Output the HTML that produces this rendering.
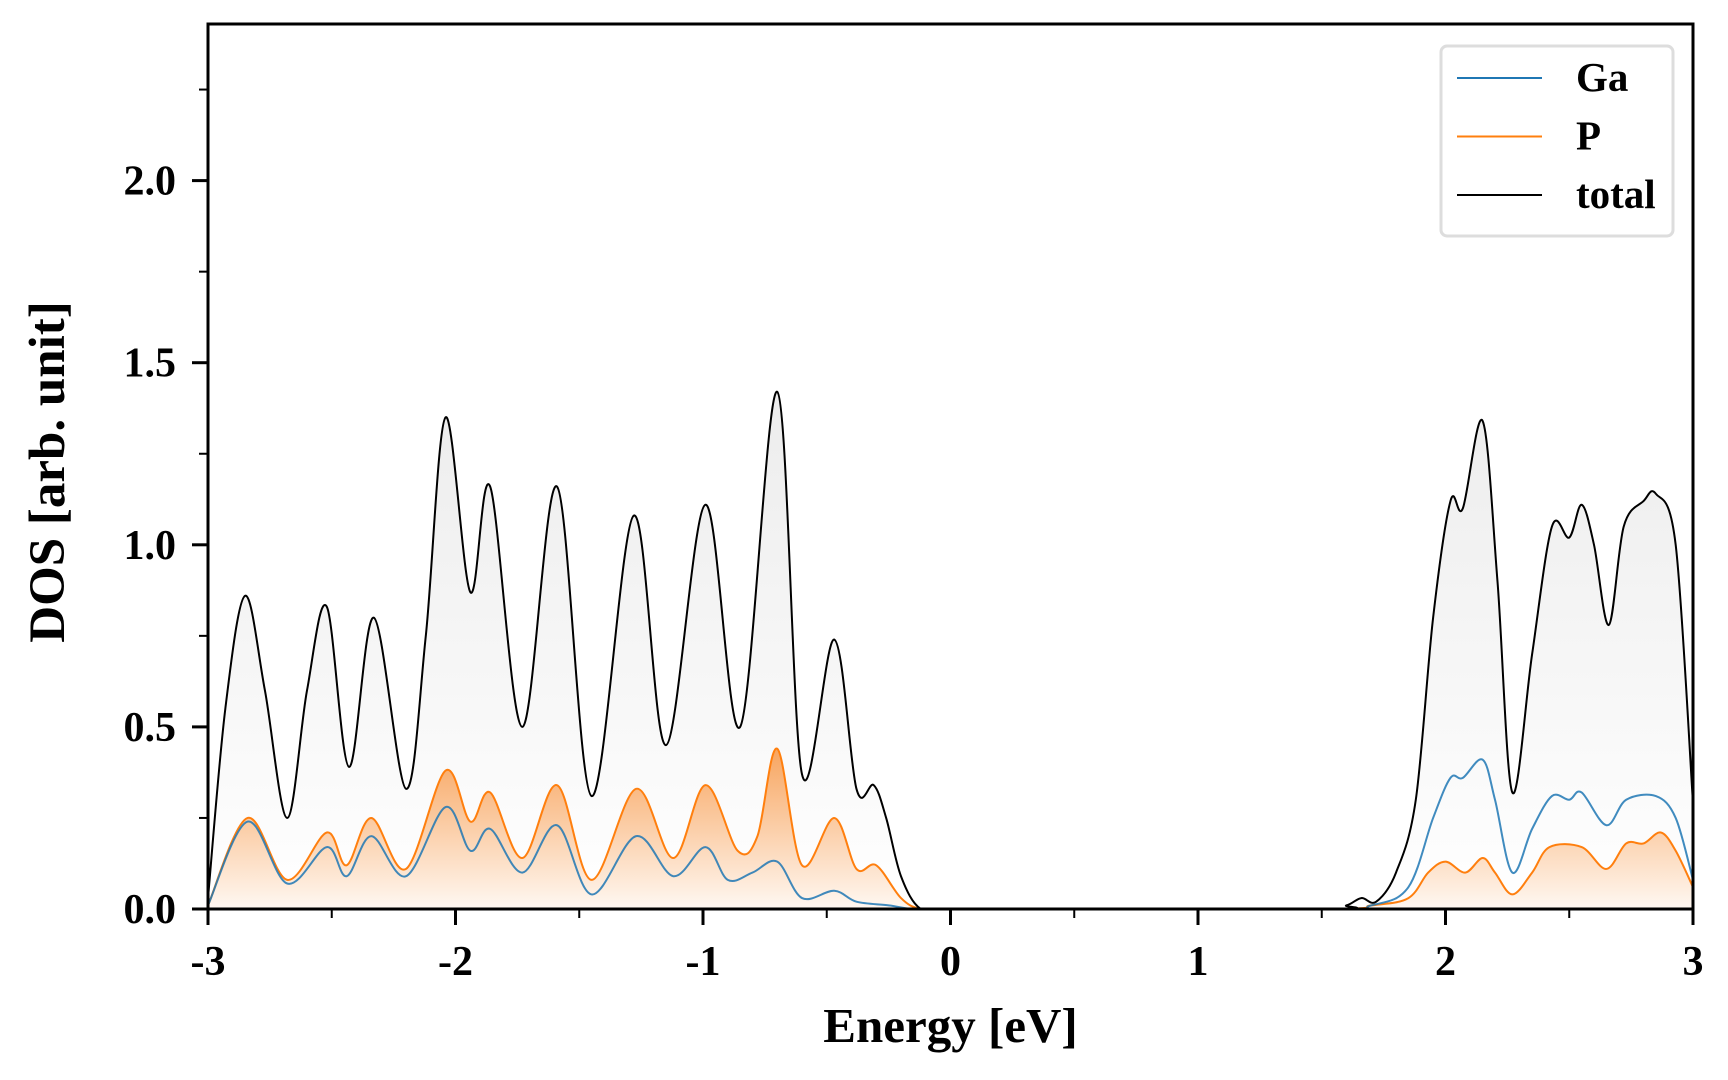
<!DOCTYPE html>
<html><head><meta charset="utf-8">
<style>
html,body{margin:0;padding:0;background:#fff;}
svg{display:block;}
text{font-family:"Liberation Serif",serif;font-weight:bold;fill:#000;}
</style></head>
<body>
<svg id="chart" width="1728" height="1080" viewBox="0 0 1728 1080" xmlns="http://www.w3.org/2000/svg">
<defs>
<linearGradient id="gTot" gradientUnits="userSpaceOnUse" x1="0" y1="380" x2="0" y2="909">
<stop offset="0" stop-color="#ececec"/><stop offset="1" stop-color="#ffffff"/>
</linearGradient>
<linearGradient id="gP" gradientUnits="userSpaceOnUse" x1="0" y1="745" x2="0" y2="909">
<stop offset="0" stop-color="#f7a35c"/><stop offset="1" stop-color="#fff8f2"/>
</linearGradient>
<clipPath id="clipA"><rect x="208" y="24" width="1485" height="885"/></clipPath>
</defs>
<g id="plot" clip-path="url(#clipA)"></g>
<g id="axes"></g>
</svg>
<script>
const totE=[-3,-2.93,-2.85,-2.77,-2.68,-2.6,-2.52,-2.43,-2.33,-2.2,-2.12,-2.04,-1.94,-1.86,-1.73,-1.59,-1.45,-1.28,-1.15,-0.99,-0.85,-0.7,-0.6,-0.47,-0.38,-0.31,-0.26,-0.2,-0.12,0,1.5,1.6,1.66,1.72,1.8,1.88,1.95,2.02,2.07,2.15,2.21,2.27,2.35,2.43,2.5,2.55,2.6,2.66,2.72,2.8,2.85,2.93,3.0];
const totV=[0.03,0.55,0.86,0.6,0.25,0.6,0.83,0.39,0.80,0.33,0.75,1.35,0.87,1.16,0.50,1.16,0.31,1.08,0.45,1.11,0.50,1.42,0.37,0.74,0.33,0.34,0.25,0.09,0.0,0,0,0.01,0.03,0.02,0.1,0.3,0.8,1.12,1.1,1.34,0.9,0.32,0.7,1.05,1.02,1.11,1.0,0.78,1.05,1.12,1.14,1.0,0.29];
const gaE=[-3,-2.84,-2.68,-2.52,-2.44,-2.34,-2.2,-2.04,-1.94,-1.86,-1.73,-1.59,-1.45,-1.27,-1.12,-0.99,-0.9,-0.8,-0.7,-0.6,-0.47,-0.38,-0.25,-0.15,0,1.5,1.7,1.85,1.95,2.02,2.07,2.15,2.2,2.27,2.35,2.43,2.5,2.55,2.65,2.73,2.85,2.93,3];
const gaV=[0.01,0.24,0.07,0.17,0.09,0.2,0.09,0.28,0.16,0.22,0.1,0.23,0.04,0.2,0.09,0.17,0.08,0.1,0.13,0.03,0.05,0.02,0.01,0.0,0,0,0.01,0.06,0.25,0.36,0.36,0.41,0.3,0.1,0.22,0.31,0.3,0.32,0.23,0.3,0.31,0.25,0.08];
const pE=[-3,-2.84,-2.68,-2.52,-2.44,-2.34,-2.2,-2.04,-1.94,-1.86,-1.73,-1.59,-1.45,-1.27,-1.12,-0.99,-0.86,-0.78,-0.7,-0.6,-0.47,-0.38,-0.3,-0.2,-0.12,0,1.5,1.7,1.85,1.93,2.0,2.08,2.15,2.2,2.27,2.35,2.42,2.55,2.65,2.73,2.8,2.87,2.93,3];
const pV=[0.01,0.25,0.08,0.21,0.12,0.25,0.11,0.38,0.24,0.32,0.14,0.34,0.08,0.33,0.14,0.34,0.16,0.2,0.44,0.12,0.25,0.11,0.12,0.03,0,0,0,0.01,0.03,0.1,0.13,0.1,0.14,0.1,0.04,0.1,0.17,0.17,0.11,0.18,0.18,0.21,0.16,0.06];
const xTicks=[-3,-2,-1,0,1,2,3];
const xTickLabels=["-3","-2","-1","0","1","2","3"];
const yTicks=[0,0.5,1.0,1.5,2.0];
const yTickLabels=["0.0","0.5","1.0","1.5","2.0"];
const legendLabels=["Ga","P","total"];
const legendColors=["#1f77b4","#ff7f0e","#000000"];

const X0=208,X1=1693,Y0=909,YT=24,XMIN=-3,XMAX=3,YMAX=2.43;
const sx=v=>X0+(v-XMIN)/(XMAX-XMIN)*(X1-X0);
const sy=v=>Y0-v/YMAX*(Y0-YT);
const NS="http://www.w3.org/2000/svg";
function mk(tag,attrs,parent){const e=document.createElementNS(NS,tag);for(const k in attrs)e.setAttribute(k,attrs[k]);parent.appendChild(e);return e;}
function pathD(E,V){
  const p=E.map((e,i)=>[sx(e),sy(V[i])]);
  let d=`M${p[0][0]},${p[0][1]}`;
  for(let i=0;i<p.length-1;i++){
    const a=p[Math.max(i-1,0)],b=p[i],c=p[i+1],n=p[Math.min(i+2,p.length-1)];
    let c1y=b[1]+(c[1]-a[1])/6,c2y=c[1]-(n[1]-b[1])/6;
    c1y=Math.min(c1y,Y0);c2y=Math.min(c2y,Y0);
    d+=` C${b[0]+(c[0]-a[0])/6},${c1y} ${c[0]-(n[0]-b[0])/6},${c2y} ${c[0]},${c[1]}`;
  }
  return d;
}
const plot=document.getElementById('plot'),axes=document.getElementById('axes');
const dT=pathD(totE,totV),dG=pathD(gaE,gaV),dP=pathD(pE,pV);
let el;
el=mk('path',{d:dT+` L${sx(3)},${Y0} L${sx(-3)},${Y0} Z`,fill:'url(#gTot)'},plot);


el=mk('path',{d:dP+` L${sx(3)},${Y0} L${sx(-3)},${Y0} Z`,fill:'url(#gP)'},plot);


el=mk('path',{d:dP,fill:'none',stroke:'#ff7f0e','stroke-width':2},plot);


el=mk('path',{d:dG,fill:'none',stroke:'#1f77b4','stroke-width':2,'stroke-opacity':0.85},plot);


el=mk('path',{d:dT,fill:'none',stroke:'#000','stroke-width':2},plot);



el=mk('rect',{x:X0,y:YT,width:X1-X0,height:Y0-YT,fill:'none',stroke:'#000','stroke-width':3},axes);


xTicks.forEach((t,i)=>{
  const x=sx(t);
  let e=mk('line',{x1:x,y1:Y0,x2:x,y2:Y0+16,stroke:'#000','stroke-width':3},axes);
  
  
  e=mk('text',{x:x,y:Y0+66,'text-anchor':'middle','font-size':42},axes);
  e.textContent=xTickLabels[i];
  
  
  if(i<xTicks.length-1){
    e=mk('line',{x1:sx(t+0.5),y1:Y0,x2:sx(t+0.5),y2:Y0+9,stroke:'#000','stroke-width':2},axes);
    
    
  }
});
yTicks.forEach((t,i)=>{
  const y=sy(t);
  let e=mk('line',{x1:X0-16,y1:y,x2:X0,y2:y,stroke:'#000','stroke-width':3},axes);
  
  
  e=mk('text',{x:X0-32,y:y+14,'text-anchor':'end','font-size':42},axes);
  e.textContent=yTickLabels[i];
  
  
  const m=t+0.25;
  if(m<YMAX){
    e=mk('line',{x1:X0-9,y1:sy(m),x2:X0,y2:sy(m),stroke:'#000','stroke-width':2},axes);
    
    
  }
});
el=mk('text',{x:(X0+X1)/2,y:1042,'text-anchor':'middle','font-size':49},axes);
el.textContent='Energy [eV]';


el=mk('text',{x:0,y:0,'text-anchor':'middle','font-size':51,transform:'translate(64,472) rotate(-90)'},axes);
el.textContent='DOS [arb. unit]';



const lg=mk('g',{},axes);


el=mk('rect',{x:1441,y:46,width:232,height:190,rx:6,fill:'#fff',stroke:'#dddddd','stroke-width':3},lg);


legendLabels.forEach((l,i)=>{
  const y=78+i*58.5;
  let e=mk('line',{x1:1457,y1:y,x2:1542,y2:y,stroke:legendColors[i],'stroke-width':2},lg);
  
  
  e=mk('text',{x:1576,y:y+13,'font-size':41},lg);
  e.textContent=l;
  
  
});
</script>
</body></html>
